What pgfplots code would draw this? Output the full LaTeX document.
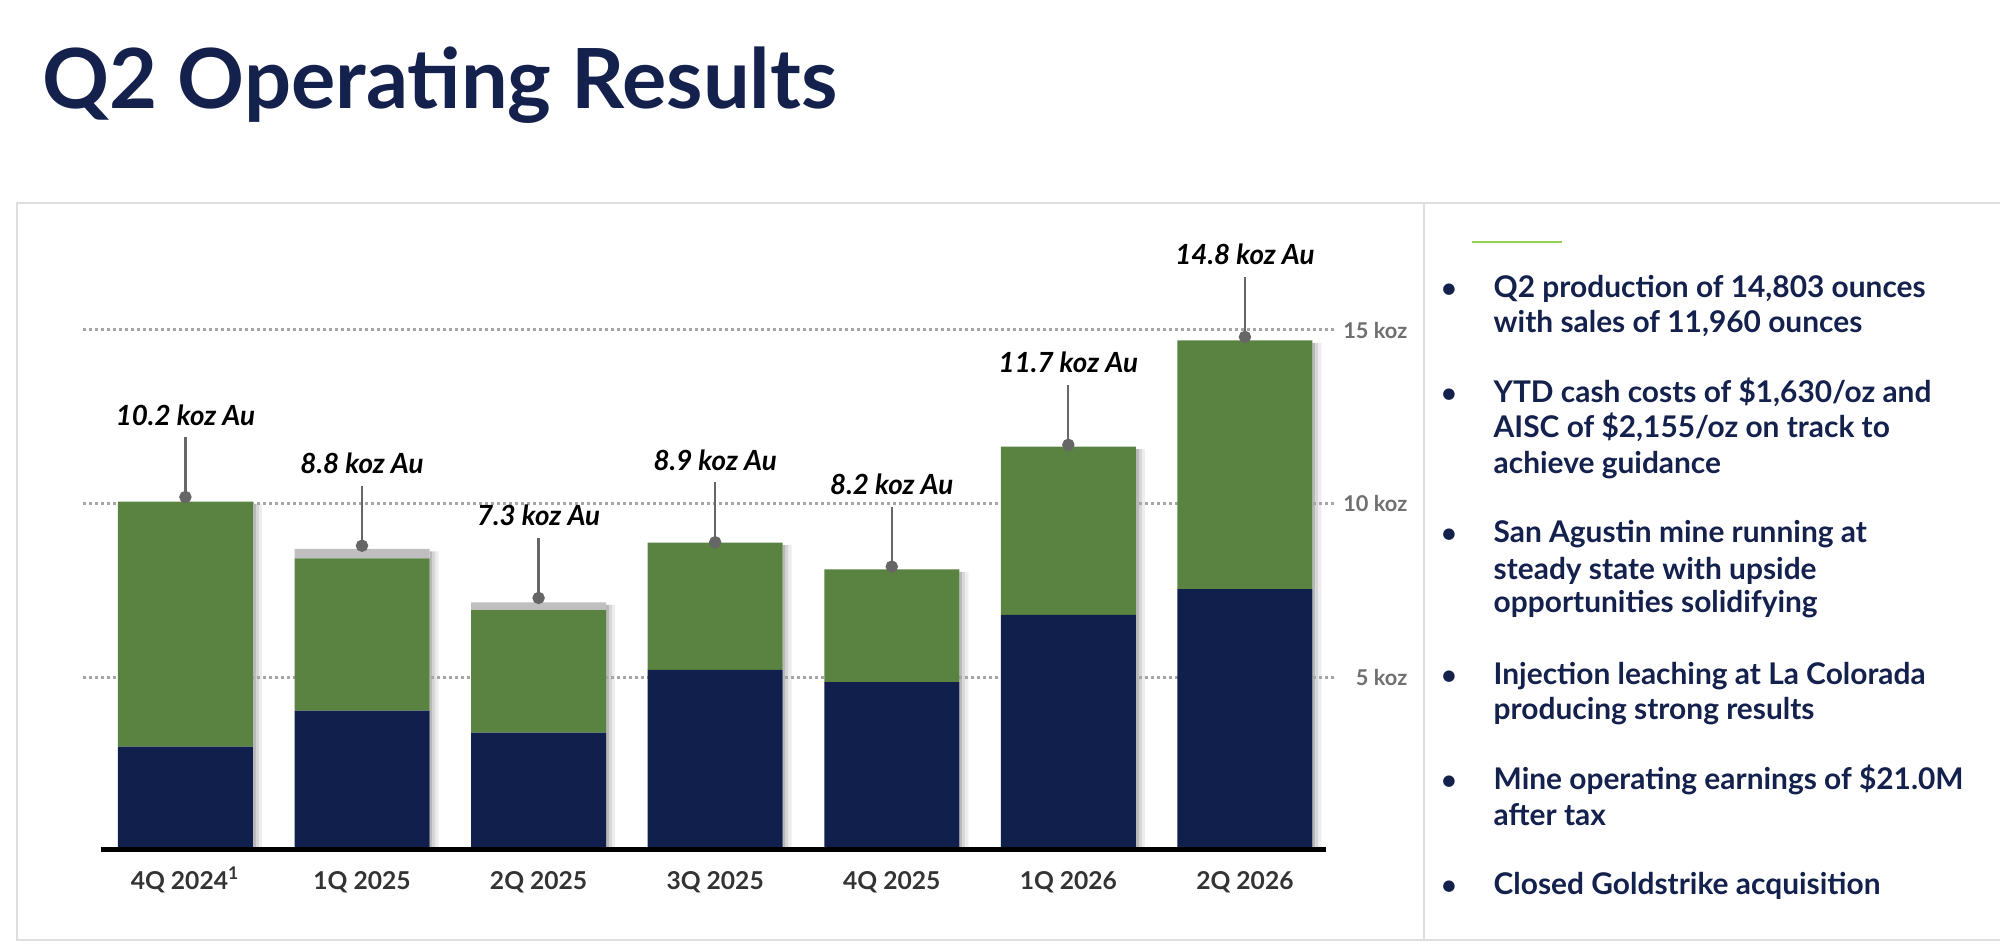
\documentclass[border=0pt]{standalone}
\usepackage{fontspec}
\setmainfont{Lato}
\usepackage{pgfplots}
\pgfplotsset{compat=1.18}
\definecolor{navy}{HTML}{101F4C}
\definecolor{bargreen}{HTML}{5A8341}
\definecolor{bargray}{HTML}{BFBFBF}
\definecolor{titlenavy}{HTML}{14214D}
\definecolor{ticktext}{HTML}{333333}
\definecolor{ytext}{HTML}{707070}
\definecolor{leader}{HTML}{666666}
\definecolor{gridgray}{HTML}{A6A6A6}
\definecolor{panel}{HTML}{DEDEDE}
\definecolor{lightgreen}{HTML}{92D050}
\pgfplotsset{frame/.style={at={(8.3mm,9.8mm)}, anchor=south west,
  scale only axis, width=125.2mm, height=62.64mm,
  xmin=-0.58, xmax=6.51, ymin=0, ymax=18}}
\pgfplotstableread{
x total
0 10.0
1 8.64
2 7.1
3 8.82
4 8.05
5 11.58
6 14.63
}\shadowtab
\begin{document}
\begin{tikzpicture}
\begin{scope}[x=0.1mm,y=0.1mm]
\useasboundingbox (0,0) rectangle (2000,950);
\fill[white] (0,0) rectangle (2000,950);
\draw[panel, line width=0.2mm] (17,10) rectangle (2020,747);
\draw[panel, line width=0.2mm] (1424,10) -- (1424,747);
\draw[lightgreen, line width=0.2mm] (1472,708) -- (1562,708);
\node[anchor=base west, inner sep=0pt, text=titlenavy, font=\fontsize{23.6}{28}\selectfont\bfseries] at (42,841) {Q2 Operating Results};
\begin{scope}[every node/.style={inner sep=0pt, text=titlenavy, font=\fontsize{8.5}{10}\selectfont\bfseries}]
\foreach \y/\t in {652/{Q2 production of 14,803 ounces},617/{with sales of 11,960 ounces},547/{YTD cash costs of \$1,630/oz and},512/{AISC of \$2,155/oz on track to},476/{achieve guidance},407/{San Agustin mine running at},370/{steady state with upside},337/{opportunities solidifying},265/{Injection leaching at La Colorada},230/{producing strong results},160/{Mine operating earnings of \$21.0M},124/{after tax},55/{Closed Goldstrike acquisition}}
  \node[anchor=base west] at (1493,\y) {\t};
\foreach \y in {652,547,407,265,160,55}
  \node[anchor=base, font=\fontsize{7.5}{9}\selectfont\bfseries] at (1449,\y) {•};
\end{scope}
\end{scope}

% soft shadow on the right of each bar (three fading strips)
\begin{axis}[frame, hide axis, clip=false]
\addplot[ybar, bar width=0.3mm, bar shift=6.9mm, draw=none, fill=black!28] table[x=x,y=total] {\shadowtab};
\addplot[ybar, bar width=0.3mm, bar shift=7.2mm, draw=none, fill=black!16] table[x=x,y=total] {\shadowtab};
\addplot[ybar, bar width=0.3mm, bar shift=7.5mm, draw=none, fill=black!7] table[x=x,y=total] {\shadowtab};
\end{axis}

\begin{axis}[
  frame,
  ybar stacked, bar width=13.5mm,
  axis x line*=bottom, axis y line*=right,
  x axis line style={draw=none},
  y axis line style={draw=none},
  major tick length=0pt,
  xtick={0,1,2,3,4,5,6},
  xticklabels={4Q 2024\textsuperscript{1},1Q 2025,2Q 2025,3Q 2025,4Q 2025,1Q 2026,2Q 2026},
  xticklabel style={anchor=base, yshift=-3.8mm, inner sep=0pt, text=ticktext, font=\fontsize{7}{8}\selectfont\bfseries},
  ytick={5,10,15},
  yticklabels={5 koz,10 koz,15 koz},
  yticklabel style={anchor=east, xshift=7.3mm, inner sep=0pt, text=ytext, font=\fontsize{6.2}{7}\selectfont\bfseries},
  ymajorgrids,
  grid style={gridgray, line width=0.3mm, dash pattern=on 0.3mm off 0.3mm},
  clip=false,
]
\draw[black, line width=0.5mm] (axis cs:-0.48,0.07) -- (axis cs:6.46,0.07);
\addplot[fill=navy, draw=none] coordinates {(0,3.03) (1,4.06) (2,3.43) (3,5.23) (4,4.88) (5,6.81) (6,7.55)};
\addplot[fill=bargreen, draw=none] coordinates {(0,7.04) (1,4.38) (2,3.52) (3,3.66) (4,3.24) (5,4.84) (6,7.15)};
\addplot[fill=bargray, draw=none] coordinates {(0,0) (1,0.27) (2,0.22) (3,0) (4,0) (5,0) (6,0)};
\end{axis}

\begin{axis}[frame, hide axis, clip=false]
\addplot[only marks, mark=*, mark size=0.55mm, color=leader,
  error bars/.cd, y dir=plus, y fixed=1.72, error mark=none,
  error bar style={line width=0.22mm, leader}]
  coordinates {(0,10.2) (1,8.8) (2,7.3) (3,8.9) (4,8.2) (5,11.7) (6,14.8)};
\addplot[only marks, mark=none, nodes near coords, point meta=explicit symbolic,
  nodes near coords style={anchor=base, yshift=7.2mm, inner sep=0pt, text=black, font=\fontsize{7.9}{9}\selectfont\bfseries\itshape}]
  coordinates {(0,10.2)[10.2 koz Au] (1,8.8)[8.8 koz Au] (2,7.3)[7.3 koz Au] (3,8.9)[8.9 koz Au] (4,8.2)[8.2 koz Au] (5,11.7)[11.7 koz Au] (6,14.8)[14.8 koz Au]};
\end{axis}
\end{tikzpicture}
\end{document}
